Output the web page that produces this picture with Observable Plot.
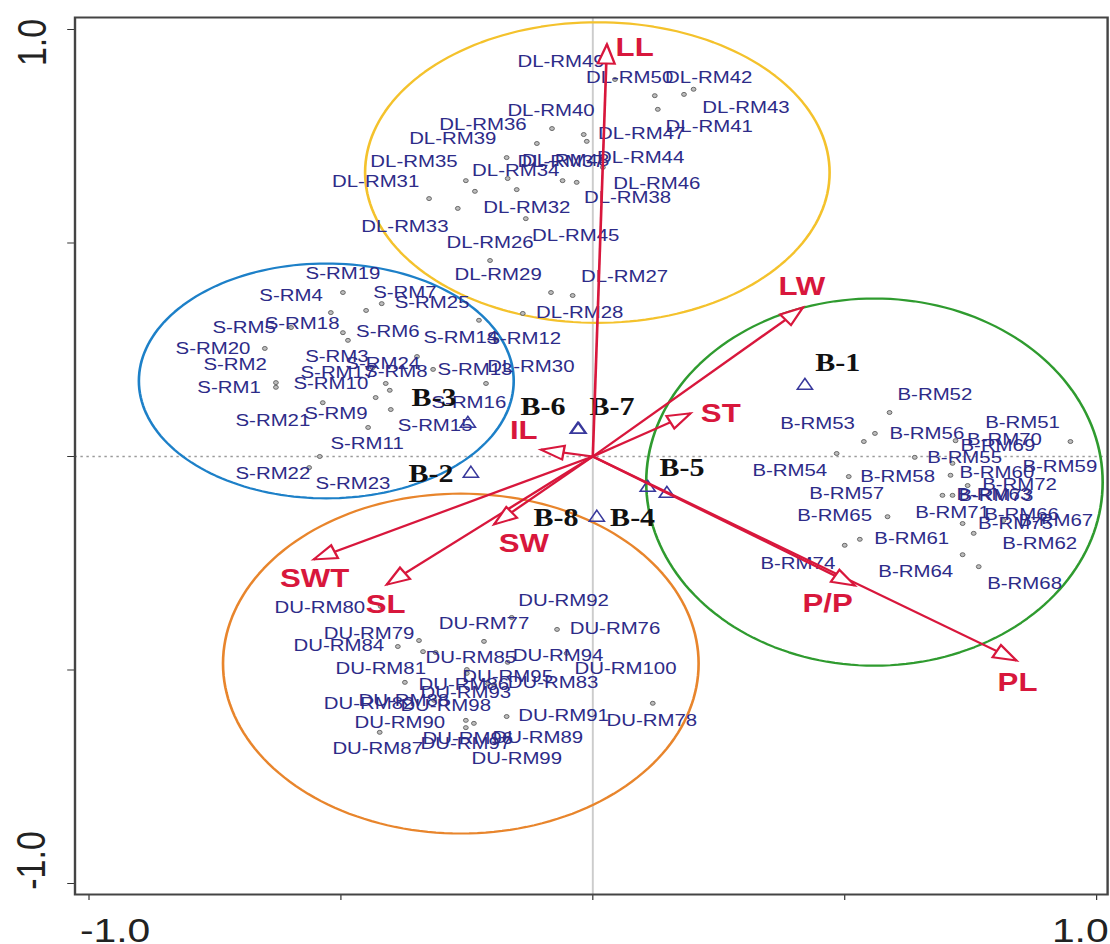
<!DOCTYPE html>
<html>
<head>
<meta charset="utf-8">
<script src="https://cdn.jsdelivr.net/npm/d3@7"></script>
<script src="https://cdn.jsdelivr.net/npm/@observablehq/plot@0.6"></script>
<style>
  html, body { margin: 0; padding: 0; background: #fff; }
  #chart { width: 1110px; height: 944px; overflow: hidden; }
  /* the biplot is printed with a wide aspect: stretch the drawing horizontally */
  #chart svg { display: block; transform: scaleX(1.2); transform-origin: 0 0; }
</style>
</head>
<body>
<div id="chart"></div>
<script>
// ---- Group ellipses (centre and semi-axes in biplot units) ----
const groupNames    = ["DL", "S", "B", "DU"];
const ellipseCx     = [0.009, -0.529, 0.559, -0.262];
const ellipseCy     = [0.665, 0.177, -0.060, -0.485];
const ellipseRx     = [0.461, 0.372, 0.453, 0.472];
const ellipseRy     = [0.352, 0.275, 0.430, 0.398];
const ellipseColors = ["#f4c22c", "#1d80c8", "#2f9b2f", "#e8852c"];

// ---- Trait vectors (arrow tips) and their label positions ----
const traitNames  = ["LL", "LW", "ST", "IL", "SW", "SWT", "SL", "P/P", "PL"];
const traitX      = [0.028, 0.417, 0.194, -0.103, -0.196, -0.554, -0.409, 0.520, 0.841];
const traitY      = [0.965, 0.349, 0.101, 0.016, -0.159, -0.241, -0.300, -0.302, -0.478];
const traitLabelX = [0.083, 0.415, 0.254, -0.137, -0.137, -0.552, -0.411, 0.466, 0.843];
const traitLabelY = [0.958, 0.398, 0.101, 0.061, -0.204, -0.286, -0.347, -0.344, -0.529];

// ---- Parents (triangles) ----
const parentNames  = ["B-1", "B-2", "B-3", "B-4", "B-5", "B-6", "B-7", "B-8"];
const parentX      = [0.421, -0.242, -0.248, 0.109, 0.147, -0.030, -0.028, 0.008];
const parentY      = [0.166, -0.040, 0.077, -0.073, -0.087, 0.063, 0.063, -0.143];
const parentLabelX = [0.486, -0.321, -0.315, 0.079, 0.177, -0.099, 0.038, -0.073];
const parentLabelY = [0.220, -0.040, 0.136, -0.145, -0.026, 0.115, 0.115, -0.145];

// ---- Genotype labels ----
const genotypeLabels = [
  "DL-RM26","DL-RM27","DL-RM28","DL-RM29","DL-RM30","DL-RM31","DL-RM32","DL-RM33","DL-RM34","DL-RM35",
  "DL-RM36","DL-RM37","DL-RM38","DL-RM39","DL-RM40","DL-RM41","DL-RM42","DL-RM43","DL-RM44","DL-RM45",
  "DL-RM46","DL-RM47","DL-RM48","DL-RM49","DL-RM50",
  "S-RM1","S-RM2","S-RM3","S-RM4","S-RM5","S-RM6","S-RM7","S-RM8","S-RM9","S-RM10",
  "S-RM11","S-RM12","S-RM13","S-RM14","S-RM15","S-RM16","S-RM17","S-RM18","S-RM19","S-RM20",
  "S-RM21","S-RM22","S-RM23","S-RM24","S-RM25",
  "B-RM51","B-RM52","B-RM53","B-RM54","B-RM55","B-RM56","B-RM57","B-RM58","B-RM59","B-RM60",
  "B-RM61","B-RM62","B-RM63","B-RM64","B-RM65","B-RM66","B-RM67","B-RM68","B-RM69","B-RM70",
  "B-RM71","B-RM72","B-RM73","B-RM74","B-RM75",
  "DU-RM76","DU-RM77","DU-RM78","DU-RM79","DU-RM80","DU-RM81","DU-RM82","DU-RM83","DU-RM84","DU-RM85",
  "DU-RM86","DU-RM87","DU-RM88","DU-RM89","DU-RM90","DU-RM91","DU-RM92","DU-RM93","DU-RM94","DU-RM95",
  "DU-RM96","DU-RM97","DU-RM98","DU-RM99","DU-RM100"
];
const labelX = [
  -0.204, 0.063, -0.026, -0.188, -0.123, -0.431, -0.131, -0.373, -0.153, -0.355,
  -0.218, -0.063, 0.069, -0.278, -0.083, 0.231, 0.230, 0.304, 0.095, -0.034,
  0.127, 0.097, -0.054, -0.063, 0.073,
  -0.722, -0.710, -0.508, -0.599, -0.692, -0.407, -0.373, -0.391, -0.510, -0.520,
  -0.448, -0.137, -0.234, -0.262, -0.313, -0.246, -0.506, -0.577, -0.496, -0.754,
  -0.635, -0.635, -0.476, -0.417, -0.319,
  0.853, 0.679, 0.446, 0.391, 0.738, 0.663, 0.504, 0.605, 0.927, 0.802,
  0.633, 0.887, 0.796, 0.641, 0.480, 0.851, 0.919, 0.857, 0.804, 0.817,
  0.714, 0.847, 0.800, 0.407, 0.839,
  0.044, -0.216, 0.117, -0.444, -0.542, -0.421, -0.444, -0.079, -0.504, -0.242,
  -0.256, -0.427, -0.375, -0.109, -0.383, -0.058, -0.058, -0.252, -0.069, -0.169,
  -0.248, -0.252, -0.292, -0.151, 0.065
];
const labelY = [
  0.501, 0.422, 0.337, 0.426, 0.211, 0.644, 0.583, 0.539, 0.670, 0.691,
  0.778, 0.691, 0.607, 0.745, 0.810, 0.773, 0.888, 0.818, 0.700, 0.518,
  0.639, 0.756, 0.693, 0.925, 0.888,
  0.162, 0.215, 0.234, 0.377, 0.302, 0.293, 0.384, 0.199, 0.101, 0.171,
  0.030, 0.276, 0.204, 0.279, 0.073, 0.126, 0.197, 0.311, 0.429, 0.253,
  0.084, -0.040, -0.063, 0.218, 0.361,
  0.080, 0.145, 0.077, -0.033, -0.002, 0.054, -0.087, -0.047, -0.023, -0.037,
  -0.192, -0.204, -0.089, -0.269, -0.138, -0.136, -0.150, -0.297, 0.026, 0.040,
  -0.131, -0.066, -0.091, -0.251, -0.157,
  -0.403, -0.391, -0.618, -0.415, -0.354, -0.496, -0.578, -0.529, -0.443, -0.471,
  -0.534, -0.684, -0.571, -0.658, -0.623, -0.607, -0.337, -0.553, -0.466, -0.515,
  -0.660, -0.672, -0.583, -0.707, -0.496
];

// ---- Genotype scores (small point markers) ----
const pointX = [
  0.044, 0.123, 0.181, 0.200, 0.129, -0.081, -0.018, -0.012, -0.111, -0.171,
  -0.169, -0.252, -0.234, -0.151, -0.060, -0.032, 0.020, -0.325, -0.268, -0.133,
  -0.204, -0.083, -0.040, -0.139,
  -0.496, -0.450, -0.419, -0.520, -0.599, -0.496, -0.486, -0.226, -0.192, -0.651,
  -0.349, -0.317, -0.437, -0.629, -0.629, -0.411, -0.403, -0.431, -0.212, -0.536,
  -0.401, -0.446, -0.542, -0.563,
  0.589, 0.560, 0.538, 0.484, 0.639, 0.720, 0.714, 0.948, 0.508, 0.710,
  0.744, 0.694, 0.714, 0.585, 0.734, 0.756, 0.815, 0.530, 0.500, 0.734, 0.766,
  -0.161, -0.071, -0.345, -0.387, -0.216, -0.337, -0.312, -0.169, -0.052, -0.250,
  -0.250, -0.373, -0.208, -0.196, 0.119, -0.171, -0.252, -0.236, -0.252, -0.423,
  -0.315, -0.421
];
const pointY = [
  0.883, 0.845, 0.848, 0.860, 0.813, 0.768, 0.754, 0.738, 0.733, 0.700,
  0.651, 0.646, 0.621, 0.625, 0.646, 0.642, 0.677, 0.604, 0.581, 0.557,
  0.459, 0.384, 0.377, 0.335,
  0.384, 0.342, 0.358, 0.337, 0.302, 0.290, 0.272, 0.319, 0.274, 0.253,
  0.234, 0.204, 0.208, 0.173, 0.162, 0.171, 0.155, 0.138, 0.171, 0.126,
  0.110, 0.068, 0.000, -0.026,
  0.103, 0.054, 0.035, 0.007, -0.002, 0.037, -0.016, 0.035, -0.047, -0.044,
  -0.068, -0.091, -0.091, -0.141, -0.157, -0.180, -0.150, -0.194, -0.208, -0.230, -0.258,
  -0.377, -0.405, -0.431, -0.445, -0.433, -0.457, -0.459, -0.482, -0.461, -0.499,
  -0.508, -0.529, -0.532, -0.534, -0.578, -0.609, -0.618, -0.625, -0.635, -0.646,
  -0.571, -0.351
];

// ---- Axis ----
const axisTicks = [-1, -0.5, 0, 0.5, 1];

// ---- Layout ----
const W = 925, H = 944;
const mL = 62, mR = 2.5, mT = 17, mB = 50;
const xDomain = [-1.0278, 1.0218];
const yDomain = [-1.0258, 1.0281];
const kx = (W - mL - mR) / (xDomain[1] - xDomain[0]);   // px per unit, x
const ky = (H - mT - mB) / (yDomain[1] - yDomain[0]);   // px per unit, y

const red = "#d8173c";
const navy = "#2d2b88";
const sans = "'Liberation Sans', Arial, Helvetica, sans-serif";
const serif = "'Liberation Serif', 'Times New Roman', serif";

// open arrow head, tip at the origin pointing up
const arrowHead = {
  draw(context) {
    context.moveTo(0, 0);
    context.lineTo(7, 19);
    context.lineTo(-7, 19);
    context.closePath();
  }
};

const traits = traitNames.map((name, i) => ({
  name, x: traitX[i], y: traitY[i], lx: traitLabelX[i], ly: traitLabelY[i],
  angle: Math.atan2(traitX[i] * kx, traitY[i] * ky) * 180 / Math.PI
}));
const parents = parentNames.map((name, i) => ({
  name, x: parentX[i], y: parentY[i], lx: parentLabelX[i], ly: parentLabelY[i]
}));
const genotypes = genotypeLabels.map((name, i) => ({name, x: labelX[i], y: labelY[i]}));
const points = pointX.map((x, i) => ({x, y: pointY[i]}));

const ellipseMarks = groupNames.map((g, i) =>
  Plot.line(d3.range(0, 361, 2).map(a => ({
    x: ellipseCx[i] + ellipseRx[i] * Math.cos(a * Math.PI / 180),
    y: ellipseCy[i] + ellipseRy[i] * Math.sin(a * Math.PI / 180)
  })), {x: "x", y: "y", stroke: ellipseColors[i], strokeWidth: 2.2})
);

const chart = Plot.plot({
  width: W, height: H,
  marginLeft: mL, marginRight: mR, marginTop: mT, marginBottom: mB,
  x: {domain: xDomain, ticks: axisTicks, tickFormat: () => "", tickSize: 6, label: null},
  y: {domain: yDomain, ticks: axisTicks, tickFormat: () => "", tickSize: 6, label: null},
  style: {background: "#fff", color: "#333", fontFamily: sans, overflow: "visible"},
  marks: [
    Plot.ruleY([0], {stroke: "#9a9a9a", strokeWidth: 1.3, strokeDasharray: "2,3"}),
    Plot.ruleX([0], {stroke: "#cccccc", strokeWidth: 1.6}),
    Plot.frame({stroke: "#444", strokeWidth: 2}),
    ...ellipseMarks,
    Plot.dot(points, {x: "x", y: "y", r: 2, fill: "#bdbdbd", stroke: "#5a5a5a", strokeWidth: 0.8}),
    Plot.text(genotypes, {x: "x", y: "y", text: "name", fill: navy, fontSize: 17, fontFamily: sans}),
    Plot.dot(parents, {x: "x", y: "y", symbol: "triangle", r: 4.7, fill: "none", stroke: "#38389c", strokeWidth: 1.4}),
    Plot.text(parents, {x: "lx", y: "ly", text: "name", fill: "#111", fontSize: 25, fontWeight: "bold", fontFamily: serif}),
    Plot.link(traits, {x1: 0, y1: 0, x2: "x", y2: "y", stroke: red, strokeWidth: 2.2}),
    Plot.dot(traits, {x: "x", y: "y", symbol: arrowHead, rotate: "angle", r: 5,
      fill: "#fff", stroke: red, strokeWidth: 2, strokeLinejoin: "miter"}),
    Plot.text(traits, {x: "lx", y: "ly", text: "name", fill: red, fontSize: 26, fontWeight: "bold", fontFamily: sans}),
    // tick labels
    Plot.text([-1], {x: d => d, text: ["-1.0"], frameAnchor: "bottom", textAnchor: "start", lineAnchor: "top",
      dx: -7.5, dy: 23, fontSize: 34, fill: "#222", fontFamily: sans}),
    Plot.text([1], {x: d => d, text: ["1.0"], frameAnchor: "bottom", textAnchor: "end", lineAnchor: "top",
      dx: 10, dy: 23, fontSize: 34, fill: "#222", fontFamily: sans}),
    Plot.text([1], {y: d => d, text: ["1.0"], frameAnchor: "left", textAnchor: "middle", rotate: -90,
      dx: -35, dy: 13, fontSize: 34, fill: "#222", fontFamily: sans}),
    Plot.text([-1], {y: d => d, text: ["-1.0"], frameAnchor: "left", textAnchor: "middle", rotate: -90,
      dx: -36, dy: -23, fontSize: 34, fill: "#222", fontFamily: sans})
  ]
});

document.getElementById("chart").appendChild(chart);
</script>
</body>
</html>
